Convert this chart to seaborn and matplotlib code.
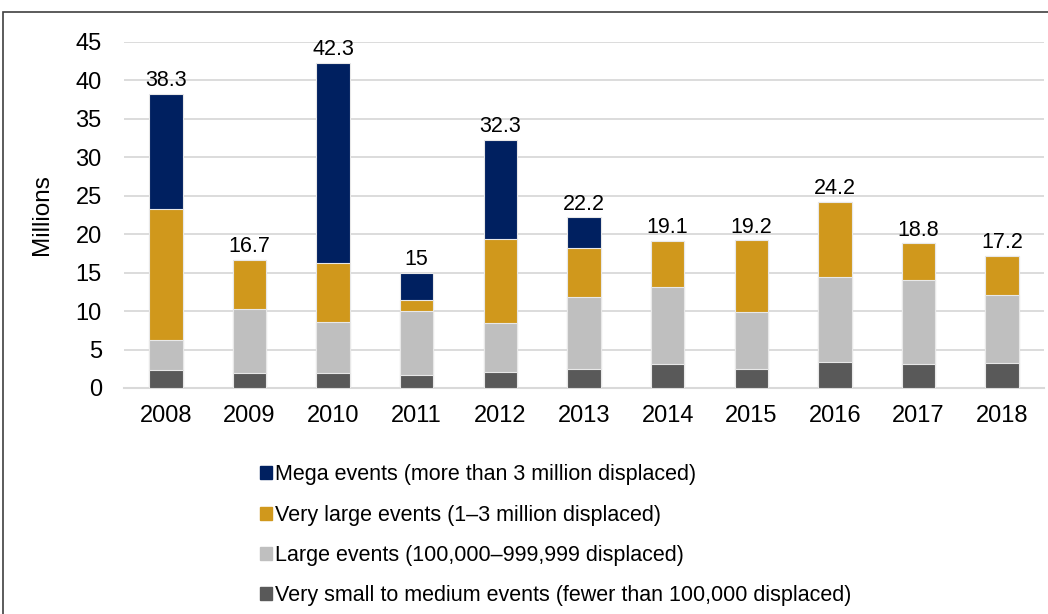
import pandas as pd
import matplotlib.pyplot as plt
import matplotlib.patches as mpatches
import seaborn as sns

# values in millions
years = ['2008', '2009', '2010', '2011', '2012', '2013', '2014', '2015', '2016', '2017', '2018']
small_medium = [2.3, 1.9, 2.0, 1.7, 2.1, 2.5, 3.1, 2.5, 3.4, 3.1, 3.3]
large = [4.0, 8.4, 6.6, 8.3, 6.4, 9.3, 10.1, 7.4, 11.1, 11.0, 8.8]
very_large = [17.0, 6.4, 7.6, 1.5, 10.9, 6.4, 5.9, 9.3, 9.7, 4.7, 5.1]
mega = [15.0, 0.0, 26.1, 3.5, 12.9, 4.0, 0.0, 0.0, 0.0, 0.0, 0.0]
totals = [38.3, 16.7, 42.3, 15, 32.3, 22.2, 19.1, 19.2, 24.2, 18.8, 17.2]

labels = ['Mega events (more than 3 million displaced)',
          'Very large events (1\u20133 million displaced)',
          'Large events (100,000\u2013999,999 displaced)',
          'Very small to medium events (fewer than 100,000 displaced)']
colors = ['#002060', '#D0981C', '#BFBFBF', '#595959']

df = pd.DataFrame({'Year': years, 'small': small_medium, 'large': large,
                   'vlarge': very_large, 'mega': mega})
# cumulative heights, drawn from the top layer down
df['c1'] = df['small']
df['c2'] = df['c1'] + df['large']
df['c3'] = df['c2'] + df['vlarge']
df['c4'] = df['c3'] + df['mega']

sns.set_style('white')
plt.rcParams['font.family'] = ['Liberation Sans', 'DejaVu Sans']
plt.rcParams['text.color'] = 'black'

fig = plt.figure(figsize=(10.48, 6.14), dpi=100)
ax = fig.add_axes([124 / 1048, 1 - 388 / 614, 920 / 1048, 346 / 614])

for col, c in zip(['c4', 'c3', 'c2', 'c1'], colors):
    sns.barplot(data=df, x='Year', y=col, color=c, width=0.4, ax=ax,
                edgecolor='#E8E8E8', linewidth=0.8, saturation=1, zorder=3)

ax.bar_label(ax.containers[0], labels=[f'{t:g}' for t in totals],
             padding=2, fontsize=15.5, color='black')

ax.set_ylim(0, 45)
ax.set_xlim(-0.5, 10.5)
ax.set_yticks(range(0, 46, 5))
ax.yaxis.grid(True, color='#D9D9D9', linewidth=1.3, zorder=0)
ax.set_axisbelow(True)
for s in ['top', 'right', 'left']:
    ax.spines[s].set_visible(False)
ax.spines['bottom'].set_color('#D9D9D9')
ax.spines['bottom'].set_linewidth(1.5)
ax.tick_params(axis='both', length=0, labelsize=17, colors='black')
ax.tick_params(axis='x', pad=12)
ax.tick_params(axis='y', pad=16)
ax.set_xlabel('')
ax.set_ylabel('Millions', fontsize=17.5, labelpad=16, color='black')

handles = [mpatches.Patch(color=c, label=l) for c, l in zip(colors, labels)]
fig.legend(handles=handles, loc='upper left', bbox_to_anchor=(241 / 1048, 1 - 445 / 614),
           frameon=False, fontsize=15.5, handlelength=0.55, handleheight=0.55,
           handletextpad=0.12, labelspacing=0.9, labelcolor='black')

# chart border
fig.patches.append(mpatches.Rectangle((3 / 1048, -0.05), 1.2, 1 - 12 / 614 + 0.05,
                                      transform=fig.transFigure, fill=False,
                                      edgecolor='#404040', linewidth=1.2))

plt.savefig('out.png', dpi=100)
plt.close()
